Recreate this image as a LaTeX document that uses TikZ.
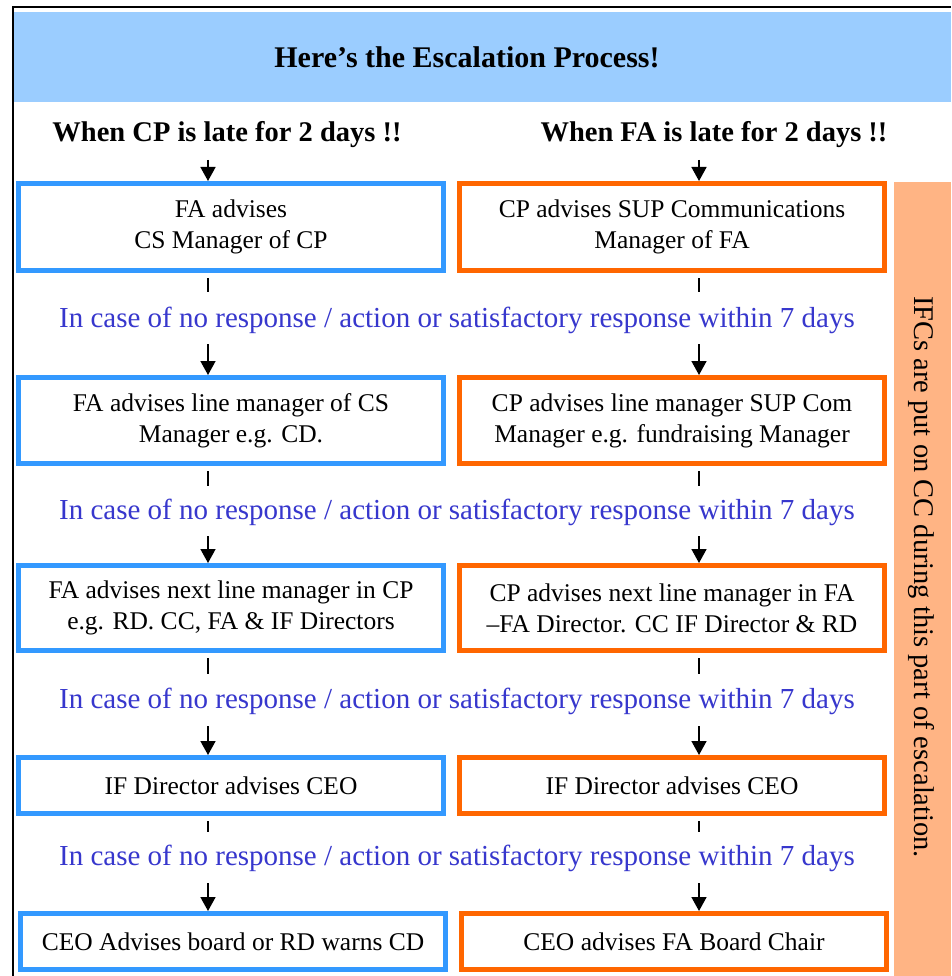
\documentclass[tikz,border=0pt]{standalone}
\usepackage{fontspec}
\setmainfont{Liberation Serif}
\usetikzlibrary{arrows.meta}
\definecolor{boxblue}{RGB}{51,153,255}
\definecolor{boxorange}{RGB}{255,102,0}
\definecolor{bandblue}{RGB}{155,205,255}
\definecolor{bandorange}{RGB}{255,180,132}
\definecolor{txtblue}{RGB}{55,55,205}
\begin{document}
\begin{tikzpicture}[x=1pt,y=-1pt,
  bx/.style={draw, line width=5pt, fill=white, minimum width=425pt, align=center, inner sep=0pt,
    font=\rmfamily\fontsize{25.5}{31}\selectfont},
  blu/.style={bx, draw=boxblue},
  org/.style={bx, draw=boxorange},
  conn/.style={line width=1.6pt},
  arr/.style={conn, -{Triangle[width=15pt,length=14pt]}},
  note/.style={text=txtblue, font=\rmfamily\fontsize{29}{32}\selectfont, inner sep=0pt},
  head/.style={font=\rmfamily\bfseries\fontsize{28.5}{32}\selectfont, inner sep=0pt}]

\useasboundingbox (0,0) rectangle (951,976);
\fill[white] (0,0) rectangle (951,976);
\fill[bandblue] (14,12) rectangle (951,102);
\draw[line width=2.5pt] (13,976) -- (13,7) -- (951,7);
\fill[bandorange] (894,182) rectangle (951,976);

\node[font=\rmfamily\bfseries\fontsize{30}{34}\selectfont, inner sep=0pt] (title) at (467,57) {Here’s the Escalation Process!};

\node[head] (hL) at (227,135) {When CP is late for 2 days !!};
\node[head] (hR) at (714,135) {When FA is late for 2 days !!};

\node[rotate=-90, font=\rmfamily\fontsize{28.5}{32}\selectfont, inner sep=0pt] (side) at (921,577) {IFCs are put on CC during this part of escalation.};

% boxes
\node[blu, minimum height=87pt] (L1) at (231,227) {FA advises\\CS Manager of CP};
\node[org, minimum height=87pt] (R1) at (672,227) {CP advises SUP Communications\\Manager of FA};
\node[blu, minimum height=86pt] (L2) at (231,420.5) {FA advises line manager of CS\\Manager e.g. CD.};
\node[org, minimum height=86pt] (R2) at (672,420.5) {CP advises line manager SUP Com\\Manager e.g. fundraising Manager};
\node[blu, minimum height=85pt] (L3) at (231,608) {FA advises next line manager in CP\\e.g. RD. CC, FA \& IF Directors};
\node[org, minimum height=85pt] (R3) at (672,608) {CP advises next line manager in FA\\–FA Director. CC IF Director \& RD};
\node[blu, minimum height=56pt] (L4) at (231,785.5) {IF Director advises CEO};
\node[org, minimum height=56pt] (R4) at (672,785.5) {IF Director advises CEO};
\node[blu, minimum height=56pt] (L5) at (233,941.5) {CEO Advises board or RD warns CD};
\node[org, minimum height=56pt] (R5) at (674,941.5) {CEO advises FA Board Chair};

% notes
\node[note] (n1) at (457,320) {In case of no response / action or satisfactory response within 7 days};
\node[note] (n2) at (457,512) {In case of no response / action or satisfactory response within 7 days};
\node[note] (n3) at (457,701) {In case of no response / action or satisfactory response within 7 days};
\node[note] (n4) at (457,858) {In case of no response / action or satisfactory response within 7 days};

% top arrows
\coordinate (sL0) at (208,160);
\coordinate (sR0) at (699,160);
\draw[arr] (sL0) -- (sL0 |- L1.north);
\draw[arr] (sR0) -- (sR0 |- R1.north);

% ticks and arrows between rows
\foreach \a/\b/\te/\as in {1/2/292/344, 2/3/486/536, 3/4/674/726, 4/5/832/883}{
  \coordinate (tL\a) at (208,\te);
  \coordinate (tR\a) at (699,\te);
  \coordinate (aL\a) at (208,\as);
  \coordinate (aR\a) at (699,\as);
  \draw[conn, shorten <=5pt] (tL\a |- L\a.south) -- (tL\a);
  \draw[conn, shorten <=5pt] (tR\a |- R\a.south) -- (tR\a);
  \draw[arr] (aL\a) -- (aL\a |- L\b.north);
  \draw[arr] (aR\a) -- (aR\a |- R\b.north);
}
\end{tikzpicture}
\end{document}
